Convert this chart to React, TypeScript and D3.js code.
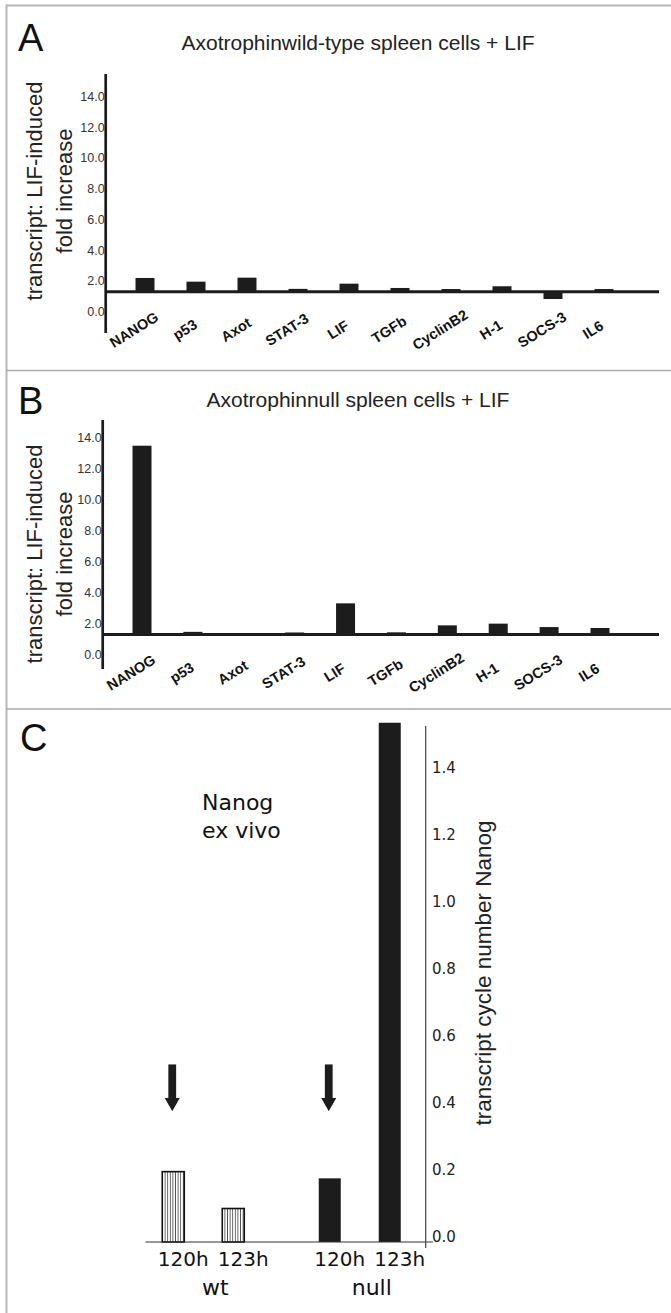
import * as d3 from 'd3';

// panel A / B: LIF-induced fold increase per transcript
const GENES = ['NANOG', 'p53', 'Axot', 'STAT-3', 'LIF', 'TGFb', 'CyclinB2', 'H-1', 'SOCS-3', 'IL6'];
const WT_FOLD = [1.89, 1.65, 1.91, 1.18, 1.52, 1.24, 1.17, 1.35, 0.52, 1.17];
const NULL_FOLD = [13.18, 1.17, 1.0, 1.13, 3.01, 1.14, 1.59, 1.7, 1.48, 1.42];
const FOLD_TICKS = [0, 2, 4, 6, 8, 10, 12, 14];

// panel C: Nanog transcript cycle number ex vivo
const GROUPS = ['wt', 'null'];
const TIMES = ['120h', '123h'];
const WT_NANOG = [0.21, 0.1];
const NULL_NANOG = [0.19, 1.55];
const NANOG_TICKS = [0, 0.2, 0.4, 0.6, 0.8, 1.0, 1.2, 1.4];
const ARROW_TOP = 0.53;
const ARROW_NECK = 0.43;
const ARROW_TIP = 0.39;

const SANS = '"Liberation Sans", Arial, Helvetica, sans-serif';
const WIDE = '"DejaVu Sans", Verdana, sans-serif';
const INK = '#1c1c1c';

function BarPanel(props) {
    const L = props.layout;
    const y = d3.scaleLinear().domain([0, 14]).range([L.y0, L.y14]);
    const x = d3.scalePoint().domain(GENES).range([L.firstX, L.lastX]);
    const barW = 19;
    const base = y(1);

    return (
        <g>
            <text x={18} y={L.letterY} fontFamily={SANS} fontSize={38} fill="#111">{props.letter}</text>
            <text x={358} y={L.titleY} fontFamily={SANS} fontSize={21} fill="#222" textAnchor="middle">{props.title}</text>

            {/* y title, two lines */}
            <g fontFamily={SANS} fontSize={22} fill="#222" textAnchor="middle">
                <text transform={`translate(42, ${L.yTitleY}) rotate(-90)`}>transcript: LIF-induced</text>
                <text transform={`translate(72, ${L.yTitleY}) rotate(-90)`}>fold increase</text>
            </g>

            {/* bars from the 1.0 baseline */}
            {props.values.map((v, i) => (
                <rect key={GENES[i]}
                    x={x(GENES[i]) - barW / 2}
                    y={Math.min(y(v), base)}
                    width={barW}
                    height={Math.abs(base - y(v))}
                    fill={INK} />
            ))}

            <line x1={L.axisX} x2={L.axisX} y1={L.axisTop} y2={L.axisBottom} stroke={INK} strokeWidth={2.7} />
            <line x1={L.axisX} x2={659} y1={base} y2={base} stroke={INK} strokeWidth={3} />

            {FOLD_TICKS.map((t) => (
                <text key={t} x={L.axisX - 1} y={y(t)} dy="0.72em" textAnchor="end"
                    fontFamily={SANS} fontSize={12.5} fill="#333">{t.toFixed(1)}</text>
            ))}

            {GENES.map((g) => (
                <text key={g}
                    transform={`translate(${x(g) - 11}, ${base + 38}) rotate(-32)`}
                    textAnchor="middle" dy="0.35em"
                    fontFamily={SANS} fontSize={14.5} fontWeight="bold" fill="#111">{g}</text>
            ))}
        </g>
    );
}

function NanogPanel() {
    const y = d3.scaleLinear().domain([0, 1.4]).range([1242, 773]);
    const group = d3.scaleBand().domain(GROUPS).range([125, 438]);
    const center = (g) => group(g) + group.bandwidth() / 2;
    const time = (g) => d3.scaleBand().domain(TIMES).range([center(g) - 60, center(g) + 60]);
    const barX = (g, t) => time(g)(t) + time(g).bandwidth() / 2;
    const barW = 22;
    const axisX = 425.7;

    const series = [
        {group: 'wt', values: WT_NANOG, hatched: true},
        {group: 'null', values: NULL_NANOG, hatched: false}
    ];

    return (
        <g>
            <defs>
                <pattern id="vhatch" width={2.6} height={10} patternUnits="userSpaceOnUse">
                    <rect width={2.6} height={10} fill="#fff" />
                    <line x1={1.3} x2={1.3} y1={0} y2={10} stroke="#333" strokeWidth={0.8} />
                </pattern>
            </defs>

            <text x={20} y={751} fontFamily={SANS} fontSize={38} fill="#111">C</text>

            <g fontFamily={WIDE} fontSize={22} fill="#111">
                <text x={202} y={810}>Nanog</text>
                <text x={202} y={838}>ex vivo</text>
            </g>

            {series.map((s) => s.values.map((v, i) => (
                <rect key={s.group + TIMES[i]}
                    x={barX(s.group, TIMES[i]) - barW / 2}
                    y={y(v)}
                    width={barW}
                    height={y(0) - y(v)}
                    fill={s.hatched ? 'url(#vhatch)' : INK}
                    stroke={s.hatched ? '#111' : 'none'}
                    strokeWidth={1.6} />
            )))}

            {/* arrows over the 120h bars */}
            {GROUPS.map((g) => {
                const cx = barX(g, TIMES[0]) - 1;
                return (
                    <g key={g} fill={INK}>
                        <rect x={cx - 3.9} y={y(ARROW_TOP)} width={7.8} height={y(ARROW_NECK) - y(ARROW_TOP) + 1} />
                        <polygon points={`${cx - 7.5},${y(ARROW_NECK)} ${cx + 7.5},${y(ARROW_NECK)} ${cx},${y(ARROW_TIP)}`} />
                    </g>
                );
            })}

            <line x1={145.5} x2={433} y1={y(0)} y2={y(0)} stroke="#333" strokeWidth={1.2} />
            <line x1={axisX} x2={axisX} y1={726} y2={1248} stroke="#444" strokeWidth={1.2} />

            {NANOG_TICKS.map((t) => (
                <text key={t} x={432} y={y(t)} fontFamily={WIDE} fontSize={15} fill="#222">{t.toFixed(1)}</text>
            ))}

            <text transform={`translate(491, 973) rotate(-90)`} textAnchor="middle"
                fontFamily={SANS} fontSize={22.5} fill="#222">transcript cycle number Nanog</text>

            <g fontFamily={WIDE} fill="#111" textAnchor="middle">
                {GROUPS.map((g) => TIMES.map((t) => (
                    <text key={g + t} x={barX(g, t) + 10} y={1266} fontSize={20}>{t}</text>
                )))}
                {GROUPS.map((g) => (
                    <text key={g} x={center(g) + 12} y={1295} fontSize={22}>{g}</text>
                ))}
            </g>
        </g>
    );
}

export default function App() {
    const layoutA = {
        y0: 307, y14: 92, axisX: 105.7, axisTop: 74, axisBottom: 333,
        firstX: 145, lastX: 604, titleY: 50, letterY: 51, yTitleY: 191
    };
    const layoutB = {
        y0: 650, y14: 433, axisX: 102.7, axisTop: 420, axisBottom: 669,
        firstX: 142, lastX: 600, titleY: 407, letterY: 414, yTitleY: 554
    };

    return (
        <svg width={671} height={1313} style={{position: 'absolute', left: 0, top: 0, background: '#fff'}}>
            <rect width={671} height={1313} fill="#fff" />

            {/* panel frames */}
            <line x1={6.5} x2={6.5} y1={4.5} y2={1313} stroke="#b8b8b8" strokeWidth={2} />
            <line x1={6} x2={671} y1={5.5} y2={5.5} stroke="#b8b8b8" strokeWidth={2} />
            <line x1={6} x2={671} y1={370.5} y2={370.5} stroke="#aaa" strokeWidth={1.5} />
            <line x1={6} x2={671} y1={709} y2={709} stroke="#aaa" strokeWidth={1.5} />

            <BarPanel letter="A" title="Axotrophinwild-type spleen cells + LIF" values={WT_FOLD} layout={layoutA} />
            <BarPanel letter="B" title="Axotrophinnull spleen cells + LIF" values={NULL_FOLD} layout={layoutB} />
            <NanogPanel />
        </svg>
    );
}
